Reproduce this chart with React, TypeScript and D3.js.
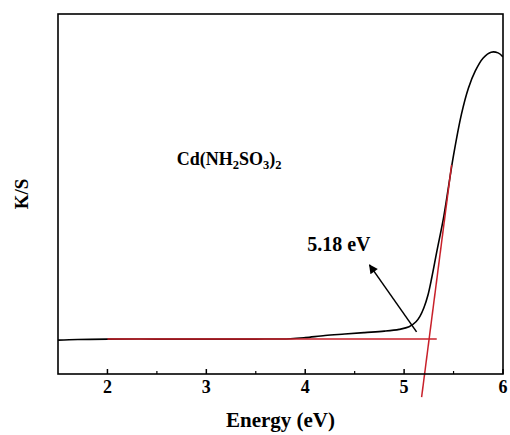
import { useEffect, useRef } from 'react'
import * as d3 from 'd3'

// K/S vs photon energy
const energy = [1.5, 1.7, 2.0, 2.5, 3.0, 3.5, 3.85, 4.0, 4.2, 4.4, 4.6, 4.8, 4.95, 5.05, 5.12, 5.16, 5.2, 5.24, 5.28, 5.33, 5.4, 5.45, 5.5, 5.58, 5.65, 5.72, 5.8, 5.88, 5.95, 6.0]
const ks = [0.94, 0.96, 0.97, 0.97, 0.97, 0.97, 0.98, 1.01, 1.07, 1.11, 1.15, 1.19, 1.24, 1.31, 1.45, 1.6, 1.84, 2.18, 2.68, 3.39, 4.36, 5.22, 6.08, 7.22, 7.94, 8.42, 8.78, 8.94, 8.92, 8.81]

// red fit lines: baseline and the tangent of the absorption edge
const baseE = [2.0, 5.33]
const baseK = [0.97, 0.97]
const edgeE = [5.177, 5.48]
const edgeK = [-0.64, 5.81]

// arrow from the knee towards the label
const arrowE = [5.126, 4.65]
const arrowK = [1.17, 3.03]

const majorTicks = [2, 3, 4, 5, 6]
const minorTicks = [2.5, 3.5, 4.5, 5.5]

const W = 510, H = 435
const M = { left: 58, right: 7, top: 14, bottom: 61 }
const FONT = '"Liberation Serif", "Times New Roman", serif'
const RED = '#c8202a'

export default function App() {
  const ref = useRef<SVGSVGElement>(null)

  useEffect(() => {
    const svg = d3.select(ref.current)
    svg.selectAll('*').remove()

    const x = d3.scaleLinear().domain([1.5, 6]).range([M.left, W - M.right])
    const y = d3.scaleLinear().domain([0, 10]).range([H - M.bottom, M.top])

    const defs = svg.append('defs')
    defs.append('marker').attr('id', 'arrowhead')
      .attr('viewBox', '0 0 10 10').attr('refX', 9).attr('refY', 5)
      .attr('markerWidth', 11).attr('markerHeight', 9).attr('markerUnits', 'userSpaceOnUse')
      .attr('orient', 'auto')
      .append('path').attr('d', 'M0,0 L10,5 L0,10 Z').attr('fill', '#000')

    const clip = defs.append('clipPath').attr('id', 'plot')
    clip.append('rect').attr('x', M.left).attr('y', M.top)
      .attr('width', W - M.left - M.right).attr('height', H - M.top - M.bottom)

    // data curve
    const curve = d3.line<[number, number]>().x(d => x(d[0])).y(d => y(d[1]))
      .curve(d3.curveCatmullRom.alpha(0.5))
    svg.append('path')
      .datum(energy.map((e, i) => [e, ks[i]] as [number, number]))
      .attr('clip-path', 'url(#plot)')
      .attr('d', curve)
      .attr('fill', 'none').attr('stroke', '#000').attr('stroke-width', 1.6)

    // fits
    const straight = d3.line<[number, number]>().x(d => x(d[0])).y(d => y(d[1]))
    ;[[baseE, baseK], [edgeE, edgeK]].forEach(([es, vs]) => {
      svg.append('path')
        .datum(es.map((e, i) => [e, vs[i]] as [number, number]))
        .attr('d', straight)
        .attr('fill', 'none').attr('stroke', RED).attr('stroke-width', 1.5)
    })

    // arrow
    svg.append('line')
      .attr('x1', x(arrowE[0])).attr('y1', y(arrowK[0]))
      .attr('x2', x(arrowE[1])).attr('y2', y(arrowK[1]))
      .attr('stroke', '#000').attr('stroke-width', 1.5)
      .attr('marker-end', 'url(#arrowhead)')

    // frame
    svg.append('rect')
      .attr('x', M.left).attr('y', M.top)
      .attr('width', W - M.left - M.right).attr('height', H - M.top - M.bottom)
      .attr('fill', 'none').attr('stroke', '#000').attr('stroke-width', 1.6)

    // bottom ticks, pointing inward
    const yb = H - M.bottom
    svg.append('g').selectAll('line').data(majorTicks).join('line')
      .attr('x1', d => x(d)).attr('x2', d => x(d))
      .attr('y1', yb).attr('y2', yb - 5)
      .attr('stroke', '#000').attr('stroke-width', 1.5)
    svg.append('g').selectAll('line').data(minorTicks).join('line')
      .attr('x1', d => x(d)).attr('x2', d => x(d))
      .attr('y1', yb).attr('y2', yb - 3)
      .attr('stroke', '#000').attr('stroke-width', 1.2)

    svg.append('g').selectAll('text').data(majorTicks).join('text')
      .attr('x', d => x(d)).attr('y', yb + 19)
      .attr('text-anchor', 'middle')
      .attr('font-family', FONT).attr('font-weight', 'bold').attr('font-size', 18)
      .text(d => d)

    svg.append('text')
      .attr('x', (M.left + W - M.right) / 2).attr('y', 427)
      .attr('text-anchor', 'middle')
      .attr('font-family', FONT).attr('font-weight', 'bold').attr('font-size', 21)
      .text('Energy (eV)')

    svg.append('text')
      .attr('transform', `translate(28,${(M.top + H - M.bottom) / 2}) rotate(-90)`)
      .attr('text-anchor', 'middle')
      .attr('font-family', FONT).attr('font-weight', 'bold').attr('font-size', 19)
      .text('K/S')

    // sample label with subscripts
    const lab = svg.append('text')
      .attr('x', x(2.7)).attr('y', y(5.8))
      .attr('font-family', FONT).attr('font-weight', 'bold').attr('font-size', 18)
    const parts: [string, boolean][] = [['Cd(NH', false], ['2', true], ['SO', false], ['3', true], [')', false], ['2', true]]
    parts.forEach(([t, sub]) => {
      lab.append('tspan')
        .attr('font-size', sub ? 12.5 : 18)
        .attr('dy', sub ? 4 : (t === 'Cd(NH' ? 0 : -4))
        .text(t)
    })

    svg.append('text')
      .attr('x', x(4.02)).attr('y', y(3.42))
      .attr('font-family', FONT).attr('font-weight', 'bold').attr('font-size', 20)
      .text('5.18 eV')
  }, [])

  return (
    <svg ref={ref} width={W} height={H}
      style={{ position: 'absolute', left: 0, top: 0, background: '#fff' }} />
  )
}
